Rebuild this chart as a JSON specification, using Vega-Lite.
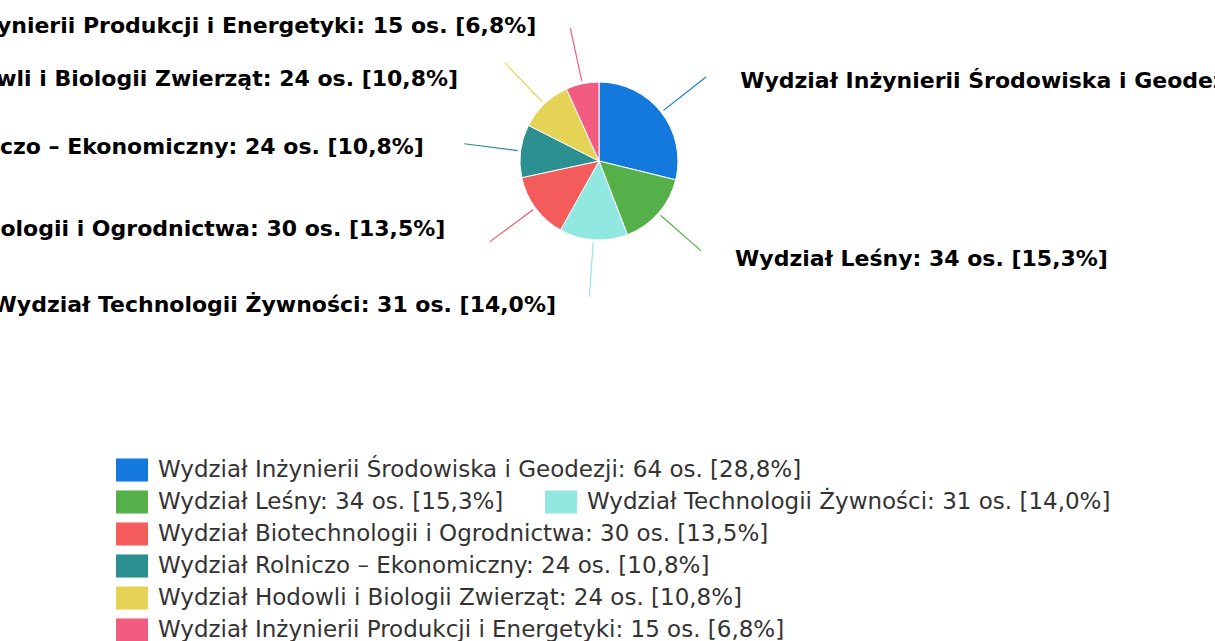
{
  "$schema": "https://vega.github.io/schema/vega-lite/v6.json",
  "width": 1198,
  "height": 322,
  "autosize": "none",
  "padding": {"left": 0, "top": 0, "right": 17, "bottom": 319},
  "background": "#ffffff",
  "config": {"view": {"stroke": null}},
  "data": {
    "values": [
      {"etykieta": "Wydział Inżynierii Środowiska i Geodezji: 64 os. [28,8%]", "osoby": 64},
      {"etykieta": "Wydział Leśny: 34 os. [15,3%]", "osoby": 34},
      {"etykieta": "Wydział Technologii Żywności: 31 os. [14,0%]", "osoby": 31},
      {"etykieta": "Wydział Biotechnologii i Ogrodnictwa: 30 os. [13,5%]", "osoby": 30},
      {"etykieta": "Wydział Rolniczo – Ekonomiczny: 24 os. [10,8%]", "osoby": 24},
      {"etykieta": "Wydział Hodowli i Biologii Zwierząt: 24 os. [10,8%]", "osoby": 24},
      {"etykieta": "Wydział Inżynierii Produkcji i Energetyki: 15 os. [6,8%]", "osoby": 15}
    ]
  },
  "encoding": {
    "theta": {"field": "osoby", "type": "quantitative", "stack": true},
    "order": {"field": "osoby", "type": "quantitative", "sort": "descending"},
    "detail": {"field": "etykieta", "type": "nominal"}
  },
  "layer": [
    {
      "mark": {"type": "arc", "innerRadius": 82, "outerRadius": 136, "padAngle": 3, "filled": false, "strokeWidth": 1.2},
      "encoding": {
        "stroke": {
          "field": "etykieta", "type": "nominal", "legend": null,
          "scale": {
            "domain": ["Wydział Inżynierii Produkcji i Energetyki: 15 os. [6,8%]", "Wydział Hodowli i Biologii Zwierząt: 24 os. [10,8%]", "Wydział Rolniczo – Ekonomiczny: 24 os. [10,8%]", "Wydział Biotechnologii i Ogrodnictwa: 30 os. [13,5%]", "Wydział Technologii Żywności: 31 os. [14,0%]", "Wydział Leśny: 34 os. [15,3%]", "Wydział Inżynierii Środowiska i Geodezji: 64 os. [28,8%]"],
            "range": ["#f15c80", "#e4d354", "#2b908f", "#f45b5b", "#91e8e1", "#56b04a", "#1479dd"]
          }
        }
      }
    },
    {
      "mark": {"type": "arc", "outerRadius": 79, "stroke": "#ffffff", "strokeWidth": 1},
      "encoding": {
        "color": {
          "field": "etykieta", "type": "nominal",
          "scale": {
            "domain": ["Wydział Inżynierii Środowiska i Geodezji: 64 os. [28,8%]", "Wydział Leśny: 34 os. [15,3%]", "Wydział Technologii Żywności: 31 os. [14,0%]", "Wydział Biotechnologii i Ogrodnictwa: 30 os. [13,5%]", "Wydział Rolniczo – Ekonomiczny: 24 os. [10,8%]", "Wydział Hodowli i Biologii Zwierząt: 24 os. [10,8%]", "Wydział Inżynierii Produkcji i Energetyki: 15 os. [6,8%]"],
            "range": ["#1479dd", "#56b04a", "#91e8e1", "#f45b5b", "#2b908f", "#e4d354", "#f15c80"]
          },
          "legend": {
            "values": ["Wydział Inżynierii Środowiska i Geodezji: 64 os. [28,8%]", "Wydział Leśny: 34 os. [15,3%]", "Wydział Biotechnologii i Ogrodnictwa: 30 os. [13,5%]", "Wydział Rolniczo – Ekonomiczny: 24 os. [10,8%]", "Wydział Hodowli i Biologii Zwierząt: 24 os. [10,8%]", "Wydział Inżynierii Produkcji i Energetyki: 15 os. [6,8%]"],
            "orient": "none", "legendX": 116, "legendY": 454, "title": null,
            "symbolType": "M-1,-0.72H1V0.72H-1Z", "symbolSize": 1024, "symbolStrokeWidth": 0, "symbolOpacity": 1,
            "labelFont": "DejaVu Sans", "labelFontSize": 23, "labelColor": "#333333", "labelOffset": 10, "labelLimit": 2000,
            "rowPadding": 4, "padding": 0
          }
        }
      }
    },
    {
      "transform": [{"filter": "datum.etykieta == 'Wydział Technologii Żywności: 31 os. [14,0%]'"}],
      "mark": {"type": "text", "text": ""},
      "encoding": {
        "fill": {
          "field": "etykieta", "type": "nominal",
          "scale": {
            "domain": ["Wydział Technologii Żywności: 31 os. [14,0%]"],
            "range": ["#91e8e1"]
          },
          "legend": {
            "orient": "none", "legendX": 545, "legendY": 486, "title": null,
            "symbolType": "M-1,-0.72H1V0.72H-1Z", "symbolSize": 1024, "symbolStrokeWidth": 0, "symbolOpacity": 1,
            "labelFont": "DejaVu Sans", "labelFontSize": 23, "labelColor": "#333333", "labelOffset": 10, "labelLimit": 2000,
            "rowPadding": 0, "padding": 0
          }
        }
      }
    },
    {
      "mark": {"type": "text", "radius": 140, "dx": 31, "dy": 6, "align": "left", "baseline": "middle", "font": "DejaVu Sans", "fontWeight": "bold", "fontSize": 22, "fill": "#000000"},
      "encoding": {
        "text": {
          "condition": {"test": "indexof(['Wydział Inżynierii Środowiska i Geodezji: 64 os. [28,8%]', 'Wydział Leśny: 34 os. [15,3%]'], datum.etykieta) >= 0", "field": "etykieta"},
          "value": ""
        }
      }
    },
    {
      "mark": {"type": "text", "radius": 114, "dx": -62, "align": "right", "baseline": "middle", "font": "DejaVu Sans", "fontWeight": "bold", "fontSize": 22, "fill": "#000000"},
      "encoding": {
        "text": {
          "condition": {"test": "indexof(['Wydział Biotechnologii i Ogrodnictwa: 30 os. [13,5%]', 'Wydział Rolniczo – Ekonomiczny: 24 os. [10,8%]', 'Wydział Hodowli i Biologii Zwierząt: 24 os. [10,8%]'], datum.etykieta) >= 0", "field": "etykieta"},
          "value": ""
        }
      }
    },
    {
      "mark": {"type": "text", "radius": 141, "dx": -33, "dy": 3, "align": "right", "baseline": "middle", "font": "DejaVu Sans", "fontWeight": "bold", "fontSize": 22, "fill": "#000000"},
      "encoding": {
        "text": {
          "condition": {"test": "indexof(['Wydział Technologii Żywności: 31 os. [14,0%]', 'Wydział Inżynierii Produkcji i Energetyki: 15 os. [6,8%]'], datum.etykieta) >= 0", "field": "etykieta"},
          "value": ""
        }
      }
    }
  ]
}
